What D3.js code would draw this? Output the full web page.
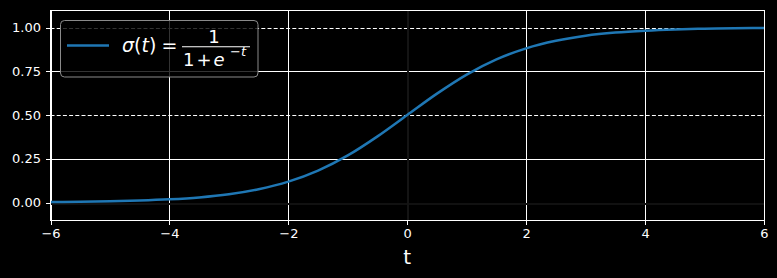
<!DOCTYPE html>
<html><head><meta charset="utf-8">
<script src="https://cdn.jsdelivr.net/npm/d3@7"></script>
<style>html,body{margin:0;padding:0;background:#000;}svg{display:block;font-family:"DejaVu Sans",sans-serif;}</style>
</head><body><svg id="c" width="777" height="278"></svg>
<script>
// data
const tValues = [-6,-5.5,-5,-4.5,-4,-3.5,-3,-2.5,-2,-1.5,-1,-0.5,0,0.5,1,1.5,2,2.5,3,3.5,4,4.5,5,5.5,6];
const sigmaValues = [0.0025,0.0041,0.0067,0.011,0.018,0.029,0.047,0.076,0.119,0.182,0.269,0.378,0.5,0.622,0.731,0.818,0.881,0.924,0.953,0.971,0.982,0.989,0.993,0.996,0.9975];
const xTicks = [-6,-4,-2,0,2,4,6];
const yTicks = [0,0.25,0.5,0.75,1];
const dashedLevels = [0.5,1];
const xDomain = [-6,6];
const yDomain = [-0.1,1.1];

const svg = d3.select("#c");
const L=50.5,R=764,T=10,B=220;
const x = d3.scaleLinear().domain(xDomain).range([L,R]);
const y = d3.scaleLinear().domain(yDomain).range([B,T]);
const px = v => Math.round(v)+0.5;

svg.append("rect").attr("width",777).attr("height",278).attr("fill","#000");

const g = svg.append("g");
// grid
g.selectAll(".gx").data(xTicks).enter().append("line")
 .attr("x1",d=>px(x(d))).attr("x2",d=>px(x(d))).attr("y1",T).attr("y2",B)
 .attr("stroke","#fff").attr("stroke-width",1);
g.selectAll(".gy").data(yTicks.filter(v=>!dashedLevels.includes(v))).enter().append("line")
 .attr("x1",L).attr("x2",R).attr("y1",d=>px(y(d))).attr("y2",d=>px(y(d)))
 .attr("stroke","#fff").attr("stroke-width",1);
g.selectAll(".gd").data(dashedLevels).enter().append("line")
 .attr("x1",L).attr("x2",R).attr("y1",d=>px(y(d))).attr("y2",d=>px(y(d)))
 .attr("stroke","#fff").attr("stroke-width",1).attr("stroke-dasharray","4,2.2");
// black axes lines at 0 (cover the grid)
g.append("line").attr("x1",L+0.5).attr("x2",R-0.5).attr("y1",px(y(0))).attr("y2",px(y(0)))
 .attr("stroke","#111").attr("stroke-width",2).attr("shape-rendering","crispEdges");
g.append("line").attr("x1",px(x(0))).attr("x2",px(x(0))).attr("y1",T+1).attr("y2",B)
 .attr("stroke","#141414").attr("stroke-width",2).attr("shape-rendering","crispEdges");

// curve
const pts = tValues.map((t,i)=>[t,sigmaValues[i]]);
g.append("path").datum(pts)
 .attr("d",d3.line().x(d=>x(d[0])).y(d=>y(d[1])).curve(d3.curveMonotoneX))
 .attr("fill","none").attr("stroke","#1f77b4").attr("stroke-width",2.5);

// spines
g.append("rect").attr("x",L).attr("y",T+0.5).attr("width",R-L).attr("height",B-T)
 .attr("fill","none").attr("stroke","#fff").attr("stroke-width",1).attr("shape-rendering","crispEdges");

// axes
const fmtY = d3.format(".2f");
const xAxis = d3.axisBottom(x).tickValues(xTicks).tickSize(4.5).tickPadding(3.5)
 .tickFormat(d=>d3.format("d")(d).replace("-","\u2212"));
const yAxis = d3.axisLeft(y).tickValues(yTicks).tickSize(4.5).tickPadding(5).tickFormat(fmtY);
const gx = svg.append("g").attr("transform",`translate(0,${B+0.5})`).call(xAxis);
const gy = svg.append("g").attr("transform",`translate(${L},0)`).call(yAxis);
[gx,gy].forEach(a=>{
  a.select(".domain").remove();
  a.selectAll("line").attr("stroke","#fff").attr("stroke-width",1).attr("shape-rendering","crispEdges");
  a.selectAll("text").attr("fill","#fff").style("font-size","13px").style("font-family","DejaVu Sans");
});

svg.append("text").attr("x",x(0)).attr("y",264).attr("text-anchor","middle")
 .attr("fill","#fff").style("font-size","20px").text("t");

// legend
const lg = svg.append("g");
lg.append("rect").attr("x",60.5).attr("y",20.5).attr("width",197.5).attr("height",56.5).attr("rx",4)
 .attr("fill","rgba(0,0,0,0.8)").attr("stroke","#8a8a8a").attr("stroke-width",1);
lg.append("line").attr("x1",67).attr("x2",109).attr("y1",45.5).attr("y2",45.5)
 .attr("stroke","#1f77b4").attr("stroke-width",2.5);
const t1 = lg.append("text").attr("x",122).attr("y",52).attr("fill","#fff").style("font-size","19px");
t1.append("tspan").style("font-style","italic").text("σ");
t1.append("tspan").text("(");
t1.append("tspan").style("font-style","italic").text("t");
t1.append("tspan").text(")");
lg.append("text").attr("x",169.5).attr("y",52).attr("text-anchor","middle").attr("fill","#fff").style("font-size","19px").text("=");
lg.append("line").attr("x1",182).attr("x2",250).attr("y1",46.7).attr("y2",46.7).attr("stroke","#fff").attr("stroke-width",1.1);
lg.append("text").attr("x",214).attr("y",43).attr("text-anchor","middle").attr("fill","#fff").style("font-size","18px").text("1");
const den = lg.append("text").attr("x",183).attr("y",65.5).attr("fill","#fff").style("font-size","18px");
den.append("tspan").text("1");
den.append("tspan").attr("dx",2).text("+");
den.append("tspan").attr("dx",2).style("font-style","italic").text("e");
lg.append("text").attr("x",230).attr("y",56).attr("fill","#fff").style("font-size","13px")
 .html('<tspan>\u2212</tspan><tspan style="font-style:italic">t</tspan>');
</script></body></html>
